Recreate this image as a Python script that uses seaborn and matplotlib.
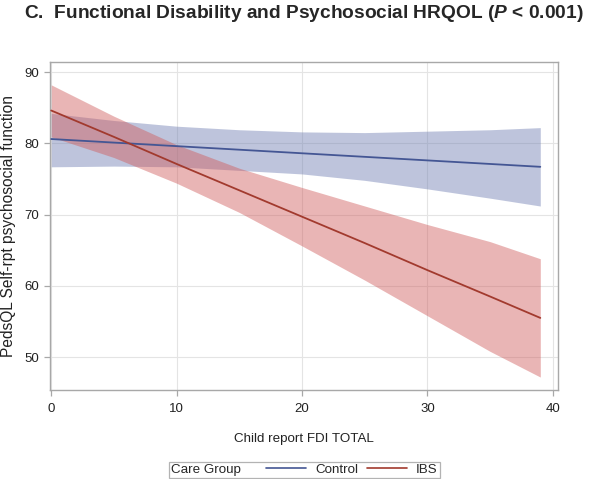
import numpy as np
import pandas as pd
import seaborn as sns
import matplotlib.pyplot as plt
from matplotlib.lines import Line2D
from matplotlib.offsetbox import HPacker

# values
fdi = [0, 5, 10, 15, 20, 25, 30, 35, 39]

control_fit = [80.6, 80.1, 79.6, 79.1, 78.6, 78.1, 77.6, 77.1, 76.7]
control_lo = [76.7, 76.8, 76.7, 76.2, 75.7, 74.8, 73.6, 72.3, 71.2]
control_hi = [84.2, 83.2, 82.4, 81.9, 81.6, 81.5, 81.7, 81.9, 82.2]

ibs_fit = [84.6, 80.9, 77.1, 73.4, 69.7, 66.0, 62.2, 58.5, 55.5]
ibs_lo = [80.9, 78.0, 74.4, 70.3, 65.6, 60.8, 55.8, 50.8, 47.2]
ibs_hi = [88.2, 83.8, 79.8, 76.5, 73.8, 71.2, 68.6, 66.2, 63.8]

groups = ['Control', 'IBS']
line_colors = {'Control': '#445694', 'IBS': '#A23A2E'}
band_colors = {'Control': '#6F7EB3', 'IBS': '#D05B5B'}

df = pd.DataFrame({
    'Child report FDI TOTAL': fdi + fdi,
    'fit': control_fit + ibs_fit,
    'lo': control_lo + ibs_lo,
    'hi': control_hi + ibs_hi,
    'Care Group': ['Control'] * len(fdi) + ['IBS'] * len(fdi),
})

sns.set_style('white')
plt.rcParams['font.family'] = ['Liberation Sans', 'DejaVu Sans']
plt.rcParams['mathtext.fontset'] = 'custom'
plt.rcParams['mathtext.bfit'] = 'Liberation Sans:italic:bold'

fig = plt.figure(figsize=(6, 4.79), dpi=100)
ax = fig.add_axes([0.0833, 0.1868, 0.8475, 0.6844])

# confidence bands first, fitted lines on top
for g in groups:
    sub = df[df['Care Group'] == g]
    ax.fill_between(sub['Child report FDI TOTAL'], sub['lo'], sub['hi'],
                    color=band_colors[g], alpha=0.45, lw=0, zorder=1)

sns.lineplot(data=df, x='Child report FDI TOTAL', y='fit', hue='Care Group',
             hue_order=groups, palette=line_colors, lw=1.3, ax=ax,
             legend=False, zorder=3)

ax.set_xlim(-0.1, 40.45)
ax.set_ylim(45.45, 91.45)
ax.set_xticks([0, 10, 20, 30, 40])
ax.set_yticks([50, 60, 70, 80, 90])
ax.grid(True, color='#E4E4E4', lw=0.8, zorder=0)
ax.set_axisbelow(True)
for s in ax.spines.values():
    s.set_color('#A8A8A8')
    s.set_linewidth(1.0)
ax.tick_params(axis='both', direction='out', length=4, width=0.9,
               color='#A8A8A8', labelsize=9.5, labelcolor='#222222',
               bottom=True, left=True, pad=4)
ax.tick_params(axis='x', pad=6)
ax.set_xlabel('Child report FDI TOTAL', fontsize=9.6, color='#222222',
              labelpad=13)
ax.set_ylabel('PedsQL Self-rpt psychosocial function', fontsize=11.2,
              color='#222222')
ax.yaxis.set_label_coords(-0.0668, 0.5)

fig.text(0.04, 0.972,
         'C.  Functional Disability and Psychosocial HRQOL ($\\mathbfit{P}$ < 0.001)',
         fontsize=13.8, fontweight='bold', va='center', ha='left')

handles = [Line2D([], [], color=line_colors[g], lw=1.2) for g in groups]
leg = fig.legend(handles, groups, title='Care Group', ncol=2,
                 loc='lower center', bbox_to_anchor=(0.5075, 0.002),
                 borderaxespad=0, frameon=True, fancybox=False,
                 edgecolor='#A0A0A0', fontsize=9.6, title_fontsize=9.6,
                 handlelength=3.0, handletextpad=0.65, columnspacing=0.7,
                 borderpad=0.15)
leg.get_frame().set_linewidth(0.9)
# put the title on the same row as the entries
box = HPacker(pad=leg._legend_box.pad, sep=18, align='center',
              children=[leg._legend_title_box, leg._legend_handle_box])
box.set_figure(fig)
box.set_offset(leg._findoffset)
leg._legend_box = box

fig.savefig('out.png', dpi=100)
